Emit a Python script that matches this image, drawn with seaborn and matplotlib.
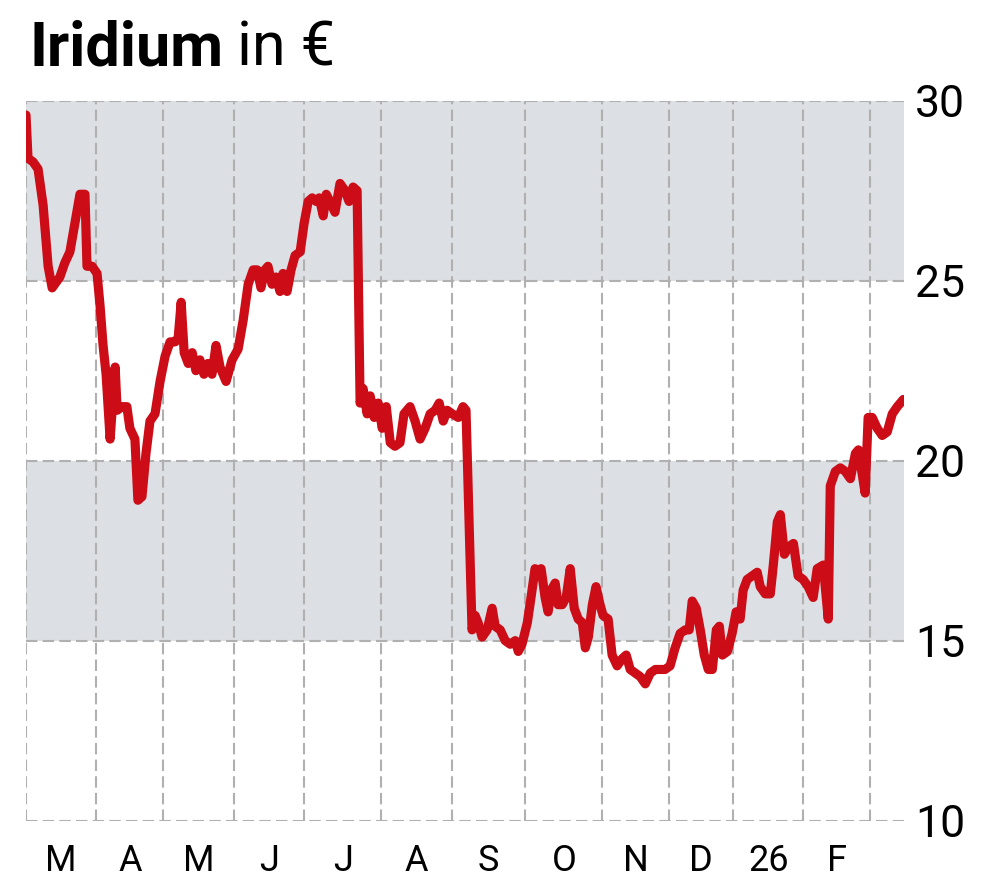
import numpy as np
import pandas as pd
import matplotlib
matplotlib.use("Agg")
import matplotlib.pyplot as plt
import seaborn as sns

# Handelstag (0 = erster Handelstag im Maerz 2025) und Preis in Euro
tag = [0.0, 0.6, 2.1, 3.6, 5.1, 6.6, 7.8, 10.1, 11.6, 13.1, 14.6, 16.1, 17.6, 18.2,
       19.7, 21.2, 22.1, 23.0, 23.9, 25.1, 26.6, 27.2, 28.7, 30.1, 31.0, 32.5, 33.4,
       34.6, 35.8, 37.0, 38.5, 40.0, 41.5, 43.0, 44.5, 45.4, 46.3, 47.2, 48.4, 49.6,
       50.7, 51.9, 53.1, 54.3, 55.5, 56.7, 57.9, 59.7, 61.5, 63.3, 64.8, 66.3, 67.8,
       69.0, 70.1, 71.3, 72.2, 73.4, 74.6, 75.8, 76.7, 77.9, 79.1, 80.3, 81.8, 83.0,
       84.2, 85.4, 86.6, 87.5, 88.7, 89.6, 90.7, 92.2, 93.7, 95.2, 96.4, 97.6, 98.8,
       99.7, 100.6, 101.8, 102.7, 103.9, 105.1, 106.3, 107.5, 108.7, 110.1, 111.6,
       112.8, 114.6, 116.1, 117.6, 119.1, 120.6, 122.1, 123.3, 124.5, 125.7, 127.2,
       129.0, 130.4, 131.3, 133.1, 134.0, 134.9, 136.1, 137.6, 139.1, 140.0, 141.5,
       143.0, 144.5, 146.0, 146.9, 148.0, 149.6, 150.7, 151.9, 152.8, 153.7, 154.9,
       155.8, 156.7, 157.9, 158.8, 160.0, 161.2, 162.4, 163.6, 164.8, 166.0, 166.9,
       167.8, 169.0, 170.1, 171.3, 172.2, 173.7, 174.9, 176.4, 177.9, 179.1, 180.3,
       181.8, 183.3, 184.8, 186.3, 187.8, 189.3, 190.7, 192.2, 193.7, 195.2, 196.7,
       197.9, 198.8, 200.0, 201.2, 202.4, 203.6, 204.8, 206.0, 206.9, 207.8, 209.3,
       210.7, 211.9, 213.1, 214.0, 215.2, 216.7, 218.2, 219.1, 220.6, 222.1, 223.0,
       224.2, 225.1, 226.3, 227.5, 229.0, 230.4, 231.9, 233.4, 234.9, 236.1, 237.9,
       239.4, 240.0, 241.5, 243.0, 244.5, 246.0, 247.5, 248.4, 250.4, 251.3, 252.5,
       254.0, 255.5, 257.0, 258.5, 260.0, 261.8]
preis = [29.6, 28.4, 28.3, 28.1, 27.1, 25.4, 24.8, 25.1, 25.5, 25.8, 26.6, 27.4, 27.4, 25.4,
         25.4, 25.2, 24.3, 23.2, 22.4, 20.6, 22.6, 21.4, 21.5, 21.5, 20.9, 20.6, 18.9,
         19.0, 20.2, 21.1, 21.3, 22.2, 22.9, 23.3, 23.3, 23.4, 24.4, 23.0, 22.7, 23.0,
         22.5, 22.8, 22.4, 22.7, 22.4, 23.2, 22.6, 22.2, 22.8, 23.1, 23.9, 24.9, 25.3,
         25.3, 24.8, 25.3, 25.4, 24.9, 25.1, 24.7, 25.2, 24.7, 25.3, 25.7, 25.8, 26.6,
         27.2, 27.3, 27.2, 27.3, 26.8, 27.4, 27.2, 26.9, 27.7, 27.5, 27.2, 27.6, 27.5,
         21.6, 22.0, 21.3, 21.8, 21.2, 21.6, 20.9, 21.5, 20.5, 20.4, 20.5,
         21.3, 21.5, 21.1, 20.6, 20.9, 21.3, 21.4, 21.6, 21.1, 21.4, 21.3,
         21.2, 21.5, 21.4, 15.3, 15.7, 15.5, 15.1, 15.3, 15.9, 15.4, 15.3,
         15.0, 14.9, 15.0, 14.7, 14.9, 15.5, 16.2, 17.0, 16.9, 17.0, 16.2,
         15.8, 16.4, 16.6, 16.0, 16.0, 16.2, 17.0, 15.9, 15.6, 15.5, 14.8,
         15.1, 16.0, 16.5, 16.0, 15.7, 15.6, 14.6, 14.3, 14.5, 14.6, 14.2,
         14.1, 14.0, 13.8, 14.1, 14.2, 14.2, 14.2, 14.3, 14.8, 15.2, 15.3,
         15.3, 16.1, 15.9, 15.3, 14.6, 14.2, 14.2, 15.3, 15.4, 14.6, 14.7,
         15.2, 15.8, 15.6, 16.4, 16.7, 16.8, 16.9, 16.5, 16.3, 16.3, 17.1,
         18.3, 18.5, 17.4, 17.6, 17.7, 16.8, 16.7, 16.5, 16.2, 17.0, 17.1,
         15.6, 19.3, 19.7, 19.8, 19.7, 19.5, 20.2, 20.3, 19.1, 21.2, 21.2,
         20.9, 20.7, 20.8, 21.3, 21.5, 21.7]

# Monatsgrenzen in Handelstagen und Beschriftungen
monatsanfang = [0, 21, 41, 62, 83, 106, 127, 149, 172, 192, 211, 232, 252]
ende = 262
monate = ["M", "A", "M", "J", "J", "A", "S", "O", "N", "D", "26", "F"]
y_ticks = [10, 15, 20, 25, 30]
baender = [(15, 20), (25, 30)]

df = pd.DataFrame({"tag": tag, "preis": preis})

sns.set_style("white")
plt.rcParams["font.family"] = ["Roboto", "DejaVu Sans"]
plt.rcParams["text.color"] = "black"
plt.rcParams["xtick.color"] = "black"
plt.rcParams["ytick.color"] = "black"

ROT = "#cc0c16"
GRAU = "#b0b0b0"
BAND = "#dcdfe3"

fig = plt.figure(figsize=(10, 8.83), dpi=100)
ax = fig.add_axes([0.026, 0.0706, 0.878, 0.8154])

for lo, hi in baender:
    ax.axhspan(lo, hi, color=BAND, zorder=0, lw=0)

sns.lineplot(data=df, x="tag", y="preis", ax=ax, color=ROT, linewidth=6.6,
             solid_capstyle="round", solid_joinstyle="round", zorder=3)

ax.set_xlim(0, ende)
ax.set_ylim(10, 30)

mitte = [(a + b) / 2 for a, b in zip(monatsanfang, monatsanfang[1:] + [ende])][:len(monate)]
ax.set_xticks(mitte)
ax.set_xticklabels(monate, fontsize=26)
ax.set_xticks(monatsanfang, minor=True)
ax.set_yticks(y_ticks)
ax.yaxis.tick_right()
ax.set_yticklabels([str(v) for v in y_ticks], fontsize=32, ha="right")

ax.tick_params(axis="x", which="both", length=0, pad=16)
ax.tick_params(axis="y", length=0, pad=44)

ax.grid(False)
ax.grid(axis="x", which="minor", color=GRAU, linestyle=(0, (5.5, 2.5)), linewidth=1.5)
ax.grid(axis="y", which="major", color=GRAU, linestyle=(0, (5.5, 2.5)), linewidth=1.5)
ax.set_axisbelow(True)

for s in ax.spines.values():
    s.set_visible(False)
ax.set_xlabel("")
ax.set_ylabel("")

# Titel: fett + normal
t1 = fig.text(0.029, 1 - 65 / 883, "Iridium", fontsize=44, fontweight="bold",
              color="black", ha="left", va="baseline")
fig.canvas.draw()
bb = t1.get_window_extent(renderer=fig.canvas.get_renderer())
x2 = (bb.x1 + 14) / fig.bbox.width
fig.text(x2, 1 - 65 / 883, "in €", fontsize=44, fontweight="normal",
         color="black", ha="left", va="baseline")

fig.savefig("out.png", dpi=100, facecolor="white")
